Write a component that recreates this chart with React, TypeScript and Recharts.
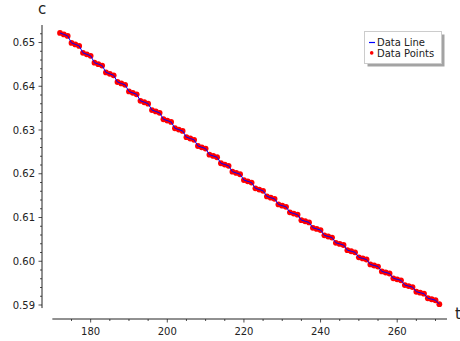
import React from 'react';
import { ComposedChart, Line, Scatter, XAxis, YAxis, ReferenceLine, Legend } from 'recharts';

// Sample times
const tValues = [
  172, 173, 174, 175, 176, 177, 178, 179, 180, 181,
  182, 183, 184, 185, 186, 187, 188, 189, 190, 191,
  192, 193, 194, 195, 196, 197, 198, 199, 200, 201,
  202, 203, 204, 205, 206, 207, 208, 209, 210, 211,
  212, 213, 214, 215, 216, 217, 218, 219, 220, 221,
  222, 223, 224, 225, 226, 227, 228, 229, 230, 231,
  232, 233, 234, 235, 236, 237, 238, 239, 240, 241,
  242, 243, 244, 245, 246, 247, 248, 249, 250, 251,
  252, 253, 254, 255, 256, 257, 258, 259, 260, 261,
  262, 263, 264, 265, 266, 267, 268, 269, 270, 271,
];

// Measured c at each sample time
const cValues = [
  0.65220, 0.65186, 0.65151, 0.64991, 0.64957, 0.64922, 0.64764, 0.64730, 0.64696, 0.64539,
  0.64506, 0.64472, 0.64317, 0.64284, 0.64251, 0.64098, 0.64065, 0.64032, 0.63881, 0.63849,
  0.63816, 0.63667, 0.63635, 0.63603, 0.63455, 0.63424, 0.63392, 0.63246, 0.63215, 0.63184,
  0.63040, 0.63009, 0.62978, 0.62836, 0.62806, 0.62775, 0.62635, 0.62605, 0.62575, 0.62436,
  0.62407, 0.62377, 0.62240, 0.62211, 0.62182, 0.62047, 0.62018, 0.61989, 0.61856, 0.61827,
  0.61799, 0.61667, 0.61639, 0.61611, 0.61482, 0.61454, 0.61426, 0.61299, 0.61271, 0.61244,
  0.61118, 0.61091, 0.61064, 0.60940, 0.60914, 0.60887, 0.60765, 0.60739, 0.60713, 0.60592,
  0.60566, 0.60541, 0.60422, 0.60397, 0.60371, 0.60254, 0.60229, 0.60204, 0.60089, 0.60065,
  0.60040, 0.59927, 0.59903, 0.59879, 0.59767, 0.59743, 0.59720, 0.59610, 0.59587, 0.59563,
  0.59455, 0.59432, 0.59409, 0.59303, 0.59281, 0.59258, 0.59154, 0.59132, 0.59109, 0.59020,
];

// Tick positions (major ones get labels)
const xTicks = [175, 180, 185, 190, 195, 200, 205, 210, 215, 220, 225, 230, 235, 240, 245, 250, 255, 260, 265, 270];
const xMajor = [180, 200, 220, 240, 260];
const yTicks = [
  0.59, 0.592, 0.594, 0.596, 0.598, 0.6, 0.602, 0.604, 0.606, 0.608,
  0.61, 0.612, 0.614, 0.616, 0.618, 0.62, 0.622, 0.624, 0.626, 0.628,
  0.63, 0.632, 0.634, 0.636, 0.638, 0.64, 0.642, 0.644, 0.646, 0.648,
  0.65, 0.652,
];

const xDomain = [167.3, 273];
const yDomain = [0.5868, 0.65469];
const xSpine = [170, 273];
const ySpine = [0.5893, 0.654];

const data = tValues.map((t, i) => ({ t, c: cValues[i] }));

const FONT = "'DejaVu Sans', sans-serif";
const INK = '#222222';

const XTick = (props: any) => {
  const { x, y, payload } = props;
  const major = xMajor.includes(payload.value);
  return (
    <g>
      <line x1={x} x2={x} y1={y} y2={y + (major ? 3.5 : 2)} stroke={INK} strokeWidth={0.8} />
      {major && (
        <text x={x} y={y + 16} textAnchor="middle" fontSize={10} fill={INK} fontFamily={FONT}>
          {payload.value}
        </text>
      )}
    </g>
  );
};

const YTick = (props: any) => {
  const { x, y, payload } = props;
  const v = payload.value as number;
  const major = Math.abs(v * 100 - Math.round(v * 100)) < 1e-6;
  return (
    <g>
      <line x1={x} x2={x - (major ? 3.5 : 2)} y1={y} y2={y} stroke={INK} strokeWidth={0.8} />
      {major && (
        <text x={x - 7} y={y + 3.6} textAnchor="end" fontSize={10} fill={INK} fontFamily={FONT}>
          {v.toFixed(2)}
        </text>
      )}
    </g>
  );
};

const LegendBox = () => (
  <svg width={82} height={37} style={{ display: 'block' }}>
    <rect x={3.5} y={3.5} width={77} height={32} fill="#a3a3a3" />
    <rect x={0.5} y={0.5} width={77} height={32} fill="#ffffff" stroke="#cccccc" />
    <line x1={5} x2={11} y1={11.5} y2={11.5} stroke="#0000ff" strokeWidth={1.2} />
    <text x={13} y={15.1} fontSize={10} fill={INK} fontFamily={FONT}>Data Line</text>
    <circle cx={7.7} cy={21.9} r={1.8} fill="#ff0000" />
    <text x={13} y={25.5} fontSize={10} fill={INK} fontFamily={FONT}>Data Points</text>
  </svg>
);

const Dot = (props: any) => <circle cx={props.cx} cy={props.cy} r={2.9} fill="#ff0000" />;

export default function App() {
  return (
    <div style={{ position: 'absolute', left: 0, top: 0, background: '#ffffff' }}>
      <ComposedChart
        width={460}
        height={341}
        data={data}
        margin={{ top: 22, right: 13, bottom: 0, left: 0 }}
      >
        <XAxis
          dataKey="t"
          type="number"
          domain={xDomain}
          allowDataOverflow
          ticks={xTicks}
          interval={0}
          height={22}
          tickSize={0}
          tickMargin={0}
          axisLine={false}
          tickLine={false}
          tick={<XTick />}
          label={{
            content: (p: any) => (
              <text
                x={p.viewBox.x + p.viewBox.width + 8}
                y={p.viewBox.y}
                fontSize={15}
                fill={INK}
                fontFamily={FONT}
              >
                t
              </text>
            ),
          }}
        />
        <YAxis
          type="number"
          domain={yDomain}
          allowDataOverflow
          ticks={yTicks}
          interval={0}
          width={42}
          tickSize={0}
          tickMargin={0}
          axisLine={false}
          tickLine={false}
          tick={<YTick />}
          label={{
            content: (p: any) => (
              <text
                x={p.viewBox.x + p.viewBox.width}
                y={p.viewBox.y - 8}
                textAnchor="middle"
                fontSize={15}
                fill={INK}
                fontFamily={FONT}
              >
                c
              </text>
            ),
          }}
        />
        <ReferenceLine
          segment={[{ x: xSpine[0], y: yDomain[0] }, { x: xSpine[1], y: yDomain[0] }]}
          stroke={INK}
          strokeWidth={1}
          ifOverflow="visible"
        />
        <ReferenceLine
          segment={[{ x: xDomain[0], y: ySpine[0] }, { x: xDomain[0], y: ySpine[1] }]}
          stroke={INK}
          strokeWidth={1}
          ifOverflow="visible"
        />
        <Scatter
          dataKey="c"
          name="Data Points"
          fill="#ff0000"
          shape={<Dot />}
          isAnimationActive={false}
          zIndex={600}
        />
        <Line
          dataKey="c"
          name="Data Line"
          stroke="#0000ff"
          strokeWidth={1}
          dot={false}
          activeDot={false}
          isAnimationActive={false}
          zIndex={700}
        />
        <Legend
          layout="vertical"
          verticalAlign="middle"
          align="center"
          content={() => <LegendBox />}
          wrapperStyle={{ left: 364, top: 31, width: 82, height: 37 }}
        />
      </ComposedChart>
    </div>
  );
}
